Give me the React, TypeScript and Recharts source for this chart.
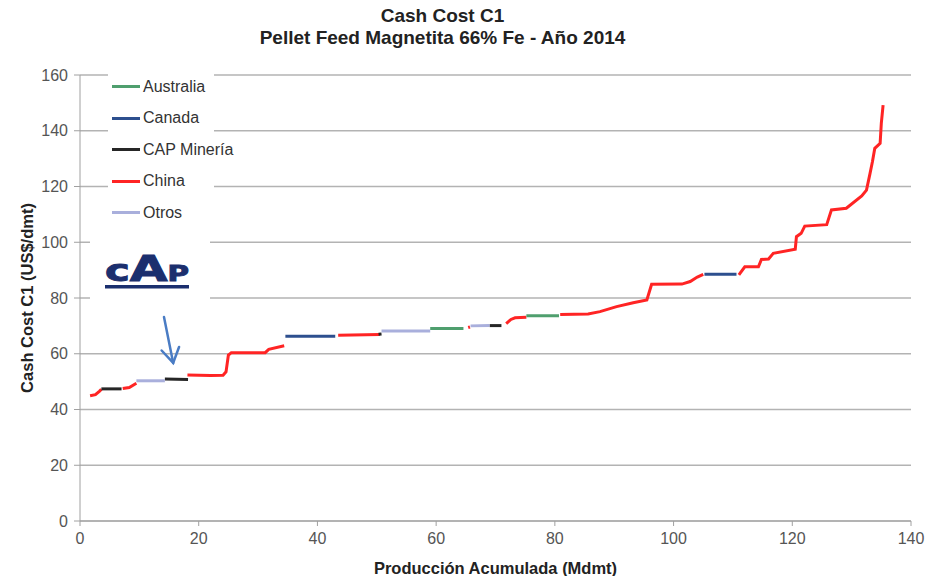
import { LineChart, Line, XAxis, YAxis, CartesianGrid, ReferenceLine, Label } from "recharts";

const COUNTRIES = ["Australia", "Canada", "CAP Minería", "China", "Otros"];
const COLORS: Record<string, string> = {
    Australia: "#4f9f6e",
    Canada: "#2d4f8e",
    "CAP Minería": "#262626",
    China: "#ff2424",
    Otros: "#a9afdc",
};

const X_TICKS = [0, 20, 40, 60, 80, 100, 120, 140];
const Y_TICKS = [0, 20, 40, 60, 80, 100, 120, 140, 160];

// cost-curve pieces, [produccion acumulada, cash cost]
const CHINA = [
    [[1.7, 44.9], [2.6, 45.3], [3.3, 46.6], [3.6, 47.3]],
    [[7.2, 47.5], [8.3, 47.9], [9.5, 49.4]],
    [[18.1, 52.4], [22, 52.2], [24.1, 52.3], [24.6, 53.5], [25.0, 59.5], [25.5, 60.4], [31.2, 60.4], [31.8, 61.6], [34.4, 62.9]],
    [[43.5, 66.6], [50.5, 66.9]],
    [[65.4, 69.4], [65.7, 69.6]],
    [[71.8, 70.8], [72.6, 72.3], [73.3, 72.9], [75.2, 73.1]],
    [[80.9, 74.1], [85.6, 74.3], [87.6, 75.1], [90.4, 76.9], [93.2, 78.3], [95.5, 79.3], [96.3, 84.9], [101.4, 85.0], [102.8, 85.9], [104, 87.5], [105.0, 88.5]],
    [[111.0, 88.3], [112.0, 91.2], [114.3, 91.2], [114.8, 93.8], [116.0, 94.0], [116.8, 96.0], [120.5, 97.5], [120.7, 102.0], [121.5, 103.2], [122.1, 105.8], [125.8, 106.3], [126.6, 111.6], [129.1, 112.2], [131.7, 116.6], [132.5, 118.7], [133.1, 124.7], [133.5, 128.9], [133.9, 133.7], [134.8, 135.5], [135.0, 142.7], [135.3, 149.2]],
];
const CAP = [
    [[3.6, 47.4], [7.0, 47.4]],
    [[14.3, 50.9], [18.2, 50.8]],
    [[50.3, 67.0], [50.8, 67.1]],
    [[69.0, 70.1], [71.0, 70.1]],
];
const OTROS = [
    [[9.5, 50.3], [14.3, 50.3]],
    [[50.8, 68.2], [59.0, 68.2]],
    [[65.8, 70.0], [69.0, 70.1]],
];
const CANADA = [
    [[34.6, 66.3], [43.0, 66.3]],
    [[105.2, 88.5], [110.6, 88.5]],
];
const AUSTRALIA = [
    [[59.0, 69.1], [64.6, 69.1]],
    [[75.2, 73.6], [80.7, 73.6]],
];

const SEGMENTS = [
    ...CHINA.map((p) => ({ country: "China", pts: p })),
    ...CAP.map((p) => ({ country: "CAP Minería", pts: p })),
    ...OTROS.map((p) => ({ country: "Otros", pts: p })),
    ...CANADA.map((p) => ({ country: "Canada", pts: p })),
    ...AUSTRALIA.map((p) => ({ country: "Australia", pts: p })),
];

const ARROW = [{ x: 14.15, y: 73.2 }, { x: 15.7, y: 56.7 }];

const FONT = "'Liberation Sans', Arial, sans-serif";

function Arrow(props: any) {
    const { x1, y1, x2, y2 } = props;
    const a = Math.atan2(y2 - y1, x2 - x1);
    const len = 17;
    const s = 0.55;
    const p1 = [x2 - len * Math.cos(a - s), y2 - len * Math.sin(a - s)];
    const p2 = [x2 - len * Math.cos(a + s), y2 - len * Math.sin(a + s)];
    return (
        <g stroke="#4a7cc4" strokeWidth={2.5} fill="none" strokeLinecap="round">
            <line x1={x1} y1={y1} x2={x2} y2={y2} />
            <polyline points={`${p1[0]},${p1[1]} ${x2},${y2} ${p2[0]},${p2[1]}`} />
        </g>
    );
}

function LegendBox() {
    return (
        <div style={{ position: "absolute", left: 108, top: 66, fontFamily: FONT }}>
            <div style={{ background: "#fff", width: 102, padding: "5px 0 6px 4px" }}>
                {COUNTRIES.map((c) => (
                    <div key={c} style={{ display: "flex", alignItems: "center", height: 31.5 }}>
                        <span style={{ flex: "0 0 28px", height: 3, background: COLORS[c], marginRight: 3 }} />
                        <span style={{ fontSize: 16, color: "#333", whiteSpace: "nowrap" }}>{c}</span>
                    </div>
                ))}
            </div>
            <div style={{ background: "#fff", width: 120, height: 72, marginLeft: -18, marginTop: 2 }}>
                <svg width={120} height={72}>
                    <text x={15} y={44} fontFamily="'DejaVu Sans', sans-serif" fontWeight="bold" fill="#1b2f6e" stroke="#1b2f6e" strokeWidth={1} textLength={84} lengthAdjust="spacingAndGlyphs">
                        <tspan fontSize={30}>c</tspan>
                        <tspan fontSize={35}>A</tspan>
                        <tspan fontSize={21}>P</tspan>
                    </text>
                    <rect x={15} y={48} width={84} height={3.5} fill="#1b2f6e" />
                </svg>
            </div>
        </div>
    );
}

export default function App() {
    return (
        <div style={{ position: "absolute", left: 0, top: 0, width: 929, height: 576, background: "#fff" }}>
            <div style={{ position: "absolute", left: 0, width: 885, top: 5, textAlign: "center", fontFamily: FONT, fontWeight: "bold", fontSize: 19, color: "#222", lineHeight: "22px" }}>
                <div>Cash Cost C1</div>
                <div>Pellet Feed Magnetita 66% Fe - Año 2014</div>
            </div>
            <LineChart width={929} height={576} margin={{ top: 75, right: 18, left: 20, bottom: 0 }}>
                <CartesianGrid vertical={false} stroke="#b3b3b3" strokeWidth={1.5} />
                <XAxis
                    dataKey="x"
                    type="number"
                    domain={[0, 140]}
                    ticks={X_TICKS}
                    height={55}
                    tickSize={5}
                    tickMargin={7}
                    stroke="#a0a0a0"
                    tick={{ fill: "#555", fontSize: 16, fontFamily: FONT }}
                >
                    <Label value="Producción Acumulada (Mdmt)" position="insideBottom" offset={2} style={{ fontFamily: FONT, fontWeight: "bold", fontSize: 16.5, fill: "#222" }} />
                </XAxis>
                <YAxis
                    type="number"
                    domain={[0, 160]}
                    ticks={Y_TICKS}
                    width={60}
                    tickSize={6}
                    tickMargin={6}
                    stroke="#a0a0a0"
                    tick={{ fill: "#555", fontSize: 16, fontFamily: FONT }}
                >
                    <Label value="Cash Cost C1 (US$/dmt)" angle={-90} position="insideLeft" offset={7} style={{ textAnchor: "middle", fontFamily: FONT, fontWeight: "bold", fontSize: 16.5, fill: "#222" }} />
                </YAxis>
                {SEGMENTS.map((s, i) => (
                    <Line
                        key={i}
                        data={s.pts.map(([x, y]) => ({ x, y }))}
                        dataKey="y"
                        type="linear"
                        stroke={COLORS[s.country]}
                        strokeWidth={3}
                        dot={false}
                        activeDot={false}
                        legendType="none"
                        isAnimationActive={false}
                    />
                ))}
                <ReferenceLine segment={ARROW} shape={Arrow} />
            </LineChart>
            <LegendBox />
        </div>
    );
}
